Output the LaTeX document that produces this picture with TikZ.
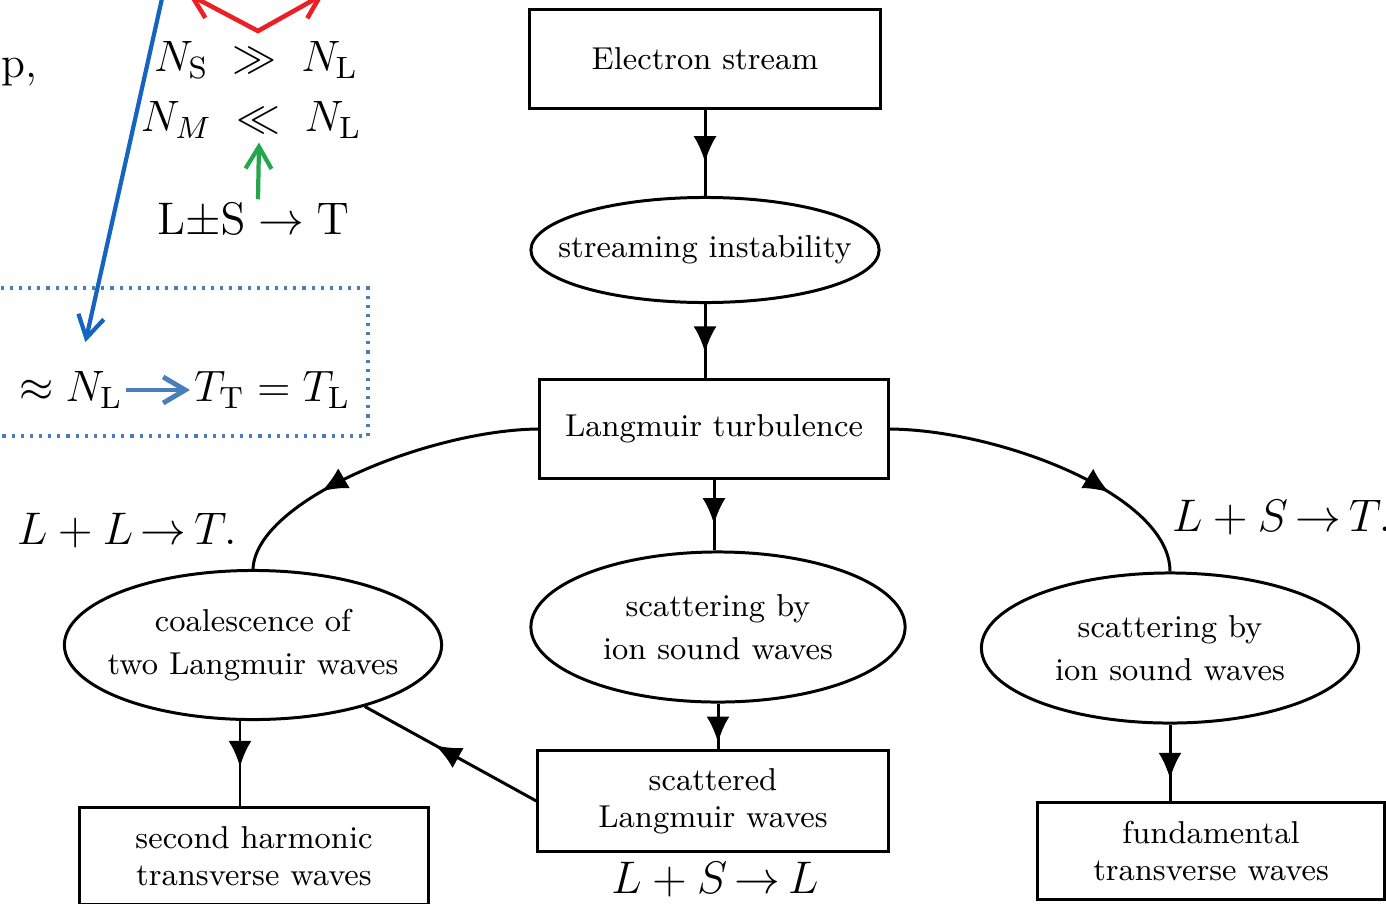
\RequirePackage{fix-cm}
\documentclass[tikz,border=0pt]{standalone}
\usepackage{xcolor}
\usepackage{amsmath}
\usepackage{amssymb}
\usetikzlibrary{shapes.geometric,arrows.meta,positioning,decorations.markings}

\definecolor{inkblue}{RGB}{21,101,192}
\definecolor{slateblue}{RGB}{74,126,187}
\definecolor{inkred}{RGB}{236,32,36}
\definecolor{inkgreen}{RGB}{34,168,74}

\begin{document}
\begin{tikzpicture}[
    x=0.01cm, y=-0.01cm,
    box/.style={rectangle, draw, line width=0.85pt, minimum width=3.48cm, minimum height=0.98cm, inner sep=0pt, align=center, font=\fontsize{9}{10.5}\selectfont},
    blob/.style={ellipse, draw, line width=0.85pt, minimum width=3.48cm, minimum height=1.05cm, inner sep=0pt},
    blobtext/.style={font=\fontsize{9}{12.2}\selectfont, align=center},
    flow/.style={line width=0.85pt, postaction={decorate}, decoration={markings, mark=at position #1 with {\arrow{Latex[length=2.6mm,width=2.3mm]}}}},
    flow/.default=0.6,
    rule/.style={font=\fontsize{13}{15}\selectfont, inner sep=1pt},
    formula/.style={font=\fontsize{12.5}{15}\selectfont, inner sep=1pt},
    hint/.style={line width=1.2pt, -{Straight Barb[length=2.2mm,width=2.6mm]}}
]
    \clip (0,0) rectangle (1386,903);

    % Main chain
    \node[box, minimum width=3.5cm] (es) at (705,59) {Electron stream};
    \node[blob, label={[blobtext]center:streaming instability}] (si) at (705,250) {};
    \node[box] (lt) at (714,429) {Langmuir turbulence};
    \node[blob, minimum width=3.74cm, minimum height=1.5cm, label={[blobtext]center:scattering by\\ion sound waves}] (sw) at (718,627) {};
    \node[box, minimum width=3.5cm, minimum height=1.0cm] (sl) at (713,801) {scattered\\Langmuir waves};

    % Left branch
    \node[blob, minimum width=3.77cm, minimum height=1.49cm, label={[blobtext]center:coalescence of\\two Langmuir waves}] (co) at (253,645) {};
    \node[box, minimum height=0.97cm] (sh) at (254,856) {second harmonic\\transverse waves};

    % Right branch
    \node[blob, minimum width=3.77cm, minimum height=1.5cm, label={[blobtext]center:scattering by\\ion sound waves}] (sr) at (1170,648) {};
    \node[box, minimum width=3.47cm, minimum height=0.97cm] (ft) at (1211,851) {fundamental\\transverse waves};

    % Connectors
    \draw[flow=0.61] (es.south) -- (es.south |- si.north);
    \draw[flow=0.65] (si.south) -- (si.south |- lt.north);
    \draw[flow=0.63] (lt.south) -- (lt.south |- sw.north);
    \draw[flow=0.85] (sw.south) -- (sw.south |- sl.north);
    \draw[flow=0.68] (lt.west) .. controls (430,430) and (256,500) .. (co.north);
    \draw[flow=0.69] (lt.east) .. controls (1000,430) and (1170,495) .. (sr.north);
    \draw[flow=0.59] (sl.west) -- (co);
    \draw[flow=0.54] ([xshift=-0.13cm]co.south) -- ([xshift=-0.13cm]co.south |- sh.north);
    \draw[flow=0.71] (sr.south) -- (sr.south |- ft.north);

    % Process labels
    \node[rule, anchor=west] (llt) at (13,531) {$L + L\,{\to}\,T.$};
    \node[rule] (lsl) at (715,880) {$L + S\,{\to}\,L$};
    \node[rule, anchor=west] (lst2) at (1168,518) {$L + S\,{\to}\,T.$};

    % Notes on the left
    \node[formula, anchor=west] (pc) at (-3,72) {p,};
    \node[formula] (ns) at (256,60) {$N_{\mathrm{S}} \;\gg\; N_{\mathrm{L}}$};
    \node[formula] (nm) at (251,120) {$N_M \;\ll\; N_{\mathrm{L}}$};
    \node[rule] (lst) at (253,221) {$\mathrm{L}{\pm}\mathrm{S}\to\mathrm{T}$};
    \node[formula, anchor=west] (nl) at (15,390) {$\approx N_{\mathrm{L}}$};
    \node[formula, anchor=west] (tt) at (190,390) {$T_{\mathrm{T}} = T_{\mathrm{L}}$};
    \draw[slateblue, line width=0.9pt, dash pattern=on 0.9pt off 1.7pt] (-5,288) rectangle (368,436);

    \coordinate (btop) at (163,-6);
    \coordinate (rv) at (258,31);
    \coordinate (rl) at (188,-6);
    \coordinate (rr) at (324,-6);
    \draw[hint, inkblue, shorten >=0.26cm] (btop) -- ([xshift=0.09cm]nl.north);
    \draw[hint, slateblue, line width=1.4pt] (nl) -- (tt);
    \draw[hint, inkgreen] ([xshift=0.05cm]lst.north) -- ([xshift=0.08cm]nm.south);
    \draw[inkred, line width=1.3pt, {Straight Barb[length=2.2mm,width=2.6mm]}-{Straight Barb[length=2.2mm,width=2.6mm]}] (rl) -- (rv) -- (rr);
\end{tikzpicture}
\end{document}
